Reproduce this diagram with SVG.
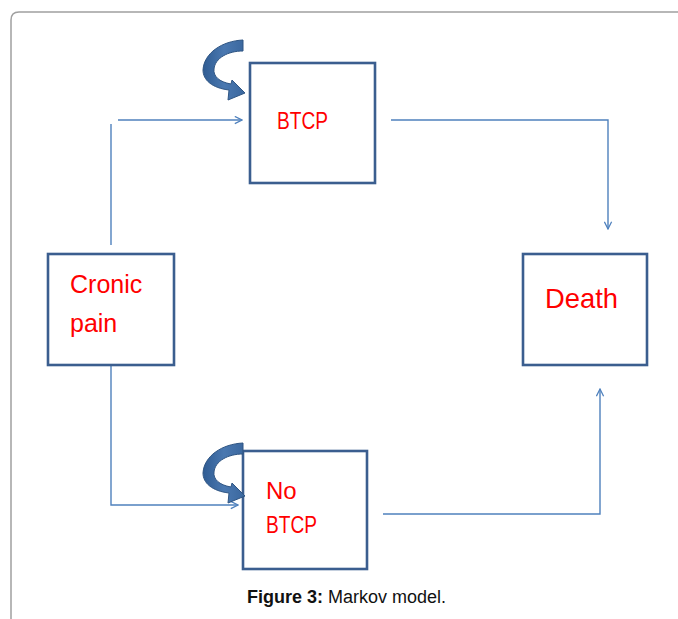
<svg xmlns="http://www.w3.org/2000/svg" width="678" height="619" viewBox="0 0 678 619">
<style>
.box{fill:#fff;stroke:#3B5E8F;stroke-width:2.6}
.lbl{fill:#FF0000;font-family:"Liberation Sans",Arial,sans-serif}
.conn{fill:none;stroke:#4F81BD;stroke-width:1.4}
.cap{font-family:"Liberation Sans",Arial,sans-serif;font-size:18px;fill:#111}
.loop{fill:url(#lg);stroke:#2F5583;stroke-width:1}
</style>
<defs>
<marker id="ah" viewBox="0 0 10 10" refX="9" refY="5" markerWidth="9" markerHeight="9" markerUnits="userSpaceOnUse" orient="auto">
<path d="M1,1 L9,5 L1,9" fill="none" stroke="#4F81BD" stroke-width="1.4"/>
</marker>
<linearGradient id="lg" x1="0" y1="0" x2="1" y2="0">
<stop offset="0" stop-color="#2F5C93"/>
<stop offset="0.5" stop-color="#4A78B0"/>
<stop offset="1" stop-color="#3A679E"/>
</linearGradient>
<path id="loopArrow" d="M243,40 C222,41 204,53 203,70 C203,80 212,88 229,90 L228,100 L245,93 L232,80 L231,84 C219,82 213,76 214,69 C215,58 228,51 243,51 Z"/>
</defs>
<path d="M11,619 L11,20 Q11,12 19,12 L678,12" fill="none" stroke="#A0A0A0" stroke-width="1.5"/>
<g id="connectors">
<path class="conn" d="M111,245 L111,124"/>
<path class="conn" d="M118,120 L242,120" marker-end="url(#ah)"/>
<path class="conn" d="M111,365 L111,505 L238,505" marker-end="url(#ah)"/>
<path class="conn" d="M391,120 L608,120 L608,229" marker-end="url(#ah)"/>
<path class="conn" d="M383,514 L600,514 L600,389" marker-end="url(#ah)"/>
</g>
<g id="loop-btcp"><use href="#loopArrow" class="loop"/></g>
<g id="node-btcp">
<rect class="box" x="250" y="63" width="125" height="120"/>
<text class="lbl" x="277" y="129" font-size="24" textLength="51" lengthAdjust="spacingAndGlyphs">BTCP</text>
</g>
<g id="node-cronic">
<rect class="box" x="48" y="254" width="126" height="111"/>
<text class="lbl" x="70" y="293" font-size="25">Cronic</text>
<text class="lbl" x="70" y="332" font-size="25">pain</text>
</g>
<g id="node-death">
<rect class="box" x="523" y="254" width="124" height="111"/>
<text class="lbl" x="545" y="308" font-size="28" textLength="73" lengthAdjust="spacingAndGlyphs">Death</text>
</g>
<g id="node-nobtcp">
<rect class="box" x="243" y="451" width="124" height="118"/>
<text class="lbl" x="266" y="499" font-size="24">No</text>
<text class="lbl" x="266" y="533" font-size="24" textLength="51" lengthAdjust="spacingAndGlyphs">BTCP</text>
</g>
<g id="loop-nobtcp"><use href="#loopArrow" class="loop" transform="translate(0,403)"/></g>
<text class="cap" x="247" y="603"><tspan font-weight="bold">Figure 3:</tspan> Markov model.</text>
</svg>
